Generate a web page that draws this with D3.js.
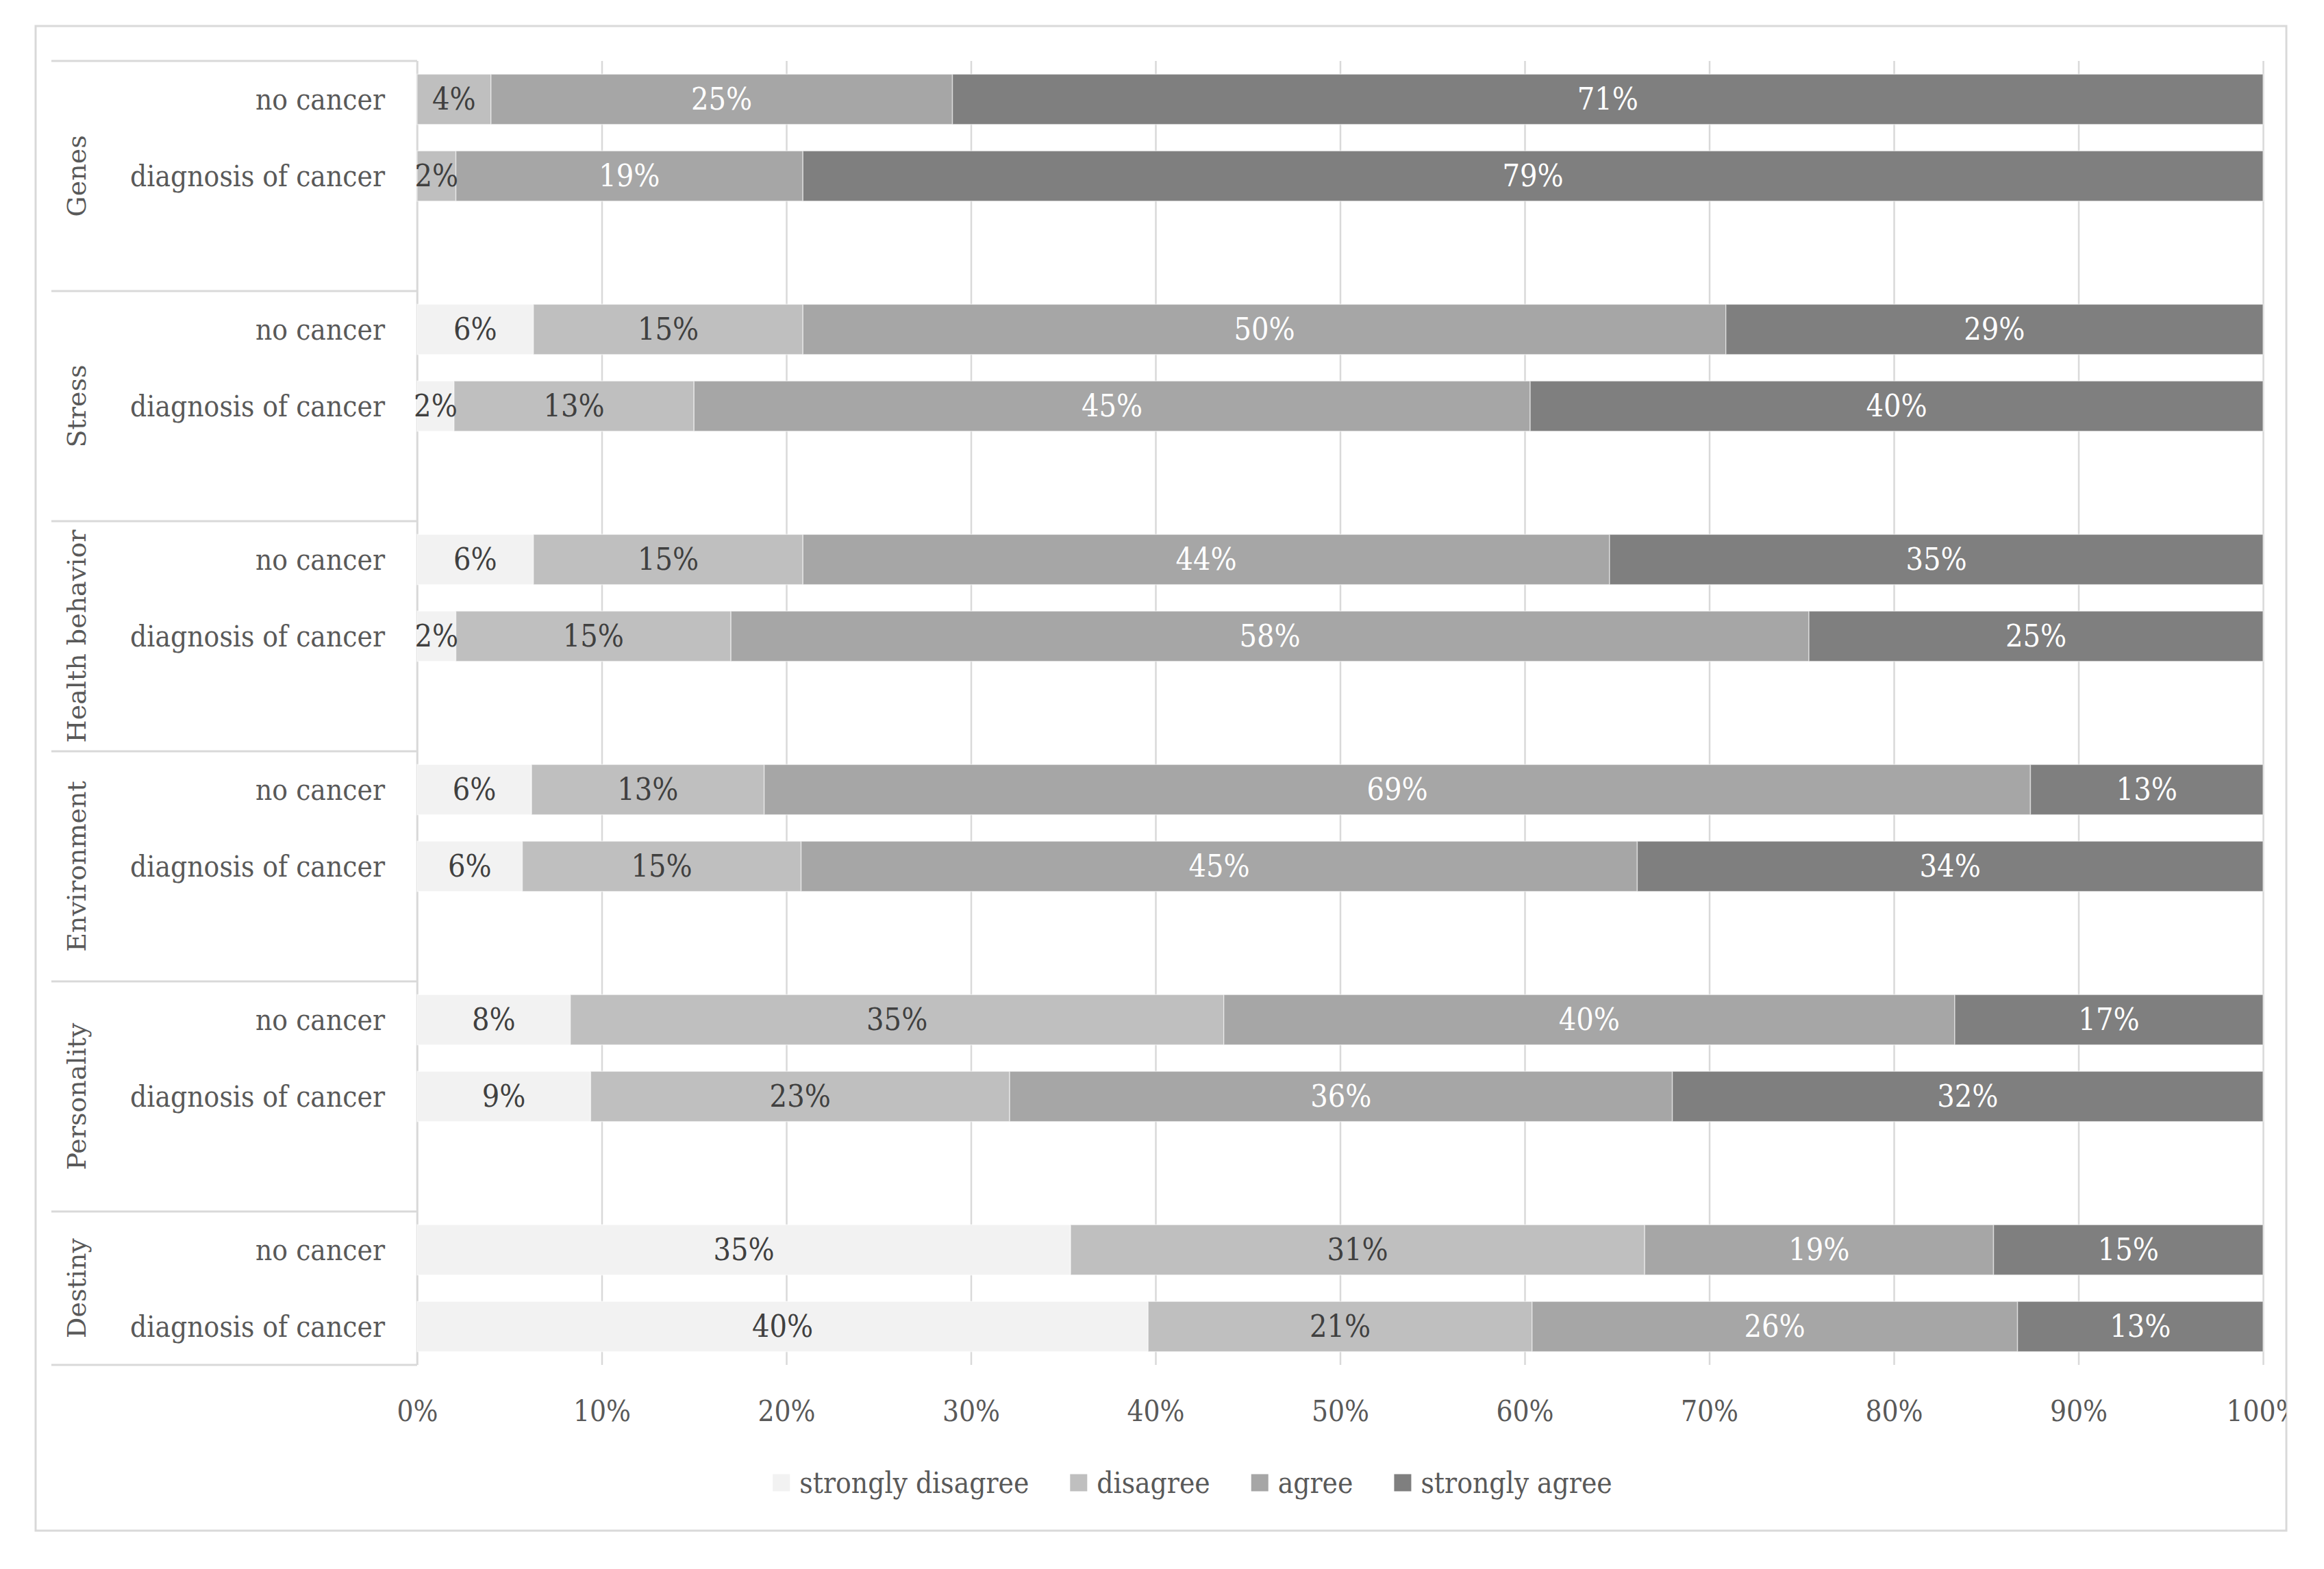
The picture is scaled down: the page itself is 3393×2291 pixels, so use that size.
<!DOCTYPE html>
<html>
<head>
<meta charset="utf-8">
<script src="https://cdn.jsdelivr.net/npm/d3@7"></script>
<style>
  body { margin: 0; background: #fff; }
</style>
</head>
<body>
<svg id="chart"></svg>
<script>
// data (percent)
const groups = ["Genes", "Stress", "Health behavior", "Environment", "Personality", "Destiny"];
const subgroups = ["no cancer", "diagnosis of cancer"];
const responses = ["strongly disagree", "disagree", "agree", "strongly agree"];
const stronglyDisagree = [0, 0, 6.3, 2.0, 6.3, 2.1, 6.2, 5.7, 8.3, 9.4, 35.4, 39.6];
const disagree = [4.0, 2.1, 14.6, 13.0, 14.6, 14.9, 12.6, 15.1, 35.4, 22.7, 31.1, 20.8];
const agree = [25.0, 18.8, 50.0, 45.3, 43.7, 58.4, 68.6, 45.3, 39.6, 35.9, 18.9, 26.3];
const stronglyAgree = [71.0, 79.1, 29.1, 39.7, 35.4, 24.6, 12.6, 33.9, 16.7, 32.0, 14.6, 13.3];
const tickValues = [0, 10, 20, 30, 40, 50, 60, 70, 80, 90, 100];

const colors = ["#f2f2f2", "#bfbfbf", "#a6a6a6", "#7f7f7f"];
const labelColors = ["#404040", "#404040", "#ffffff", "#ffffff"];

const W = 3393, H = 2291;
const frame = {x0: 52, y0: 38, x1: 3338, y1: 2235};
const plot = {x0: 609, x1: 3304, y0: 89, y1: 1993};
const tableLeft = 75;
const family = '"DejaVu Serif Condensed", "DejaVu Serif", serif';

const svg = d3.select("#chart").attr("width", W).attr("height", H)
    .style("font-family", family);

// fit the font size so "diagnosis of cancer" is as wide as in the picture
const probe = svg.append("text").style("font-size", "100px").text("diagnosis of cancer");
const fs = 100 * 372 / probe.node().getComputedTextLength();
probe.remove();
const fsVal = fs * 1.06;

// rows, with a blank slot between groups
const rows = [];
const slots = [];
groups.forEach((g, gi) => {
    subgroups.forEach((s, si) => {
        const i = gi * 2 + si;
        const key = g + "|" + s;
        rows.push({
            key, group: g, sub: s,
            "strongly disagree": stronglyDisagree[i],
            "disagree": disagree[i],
            "agree": agree[i],
            "strongly agree": stronglyAgree[i]
        });
        slots.push(key);
    });
    if (gi < groups.length - 1) slots.push("blank" + gi);
});

const x = d3.scaleLinear().domain([0, 100]).range([plot.x0, plot.x1]);
const y = d3.scaleBand().domain(slots).range([plot.y0, plot.y1])
    .paddingInner(0.345).paddingOuter(0.1725);
const step = y.step();

// outer frame
svg.append("rect")
    .attr("x", frame.x0).attr("y", frame.y0)
    .attr("width", frame.x1 - frame.x0).attr("height", frame.y1 - frame.y0)
    .attr("fill", "#fff").attr("stroke", "#d9d9d9").attr("stroke-width", 3);

svg.append("defs").append("clipPath").attr("id", "frameClip")
    .append("rect")
    .attr("x", frame.x0).attr("y", frame.y0)
    .attr("width", frame.x1 - frame.x0).attr("height", frame.y1 - frame.y0);

// gridlines + tick labels
const xAxis = d3.axisBottom(x)
    .tickValues(tickValues)
    .tickSize(-(plot.y1 - plot.y0))
    .tickPadding(0)
    .tickFormat(d => d + "%");

const ax = svg.append("g")
    .attr("clip-path", "url(#frameClip)")
    .append("g")
    .attr("transform", `translate(0,${plot.y1})`)
    .call(xAxis);
ax.select(".domain").remove();
ax.selectAll(".tick line").attr("stroke", "#d9d9d9").attr("stroke-width", 2.5);
ax.selectAll(".tick text")
    .attr("y", 2060 - plot.y1)
    .attr("dy", "0.35em")
    .attr("fill", "#595959")
    .style("font-family", family)
    .style("font-size", fs + "px");

// category table lines
const groupStarts = groups.map((g, gi) => plot.y0 + gi * 3 * step);
const boundaries = groupStarts.concat([plot.y1]);
svg.append("g").selectAll("line")
    .data(boundaries)
    .join("line")
    .attr("x1", tableLeft).attr("x2", plot.x0)
    .attr("y1", d => d).attr("y2", d => d)
    .attr("stroke", "#d9d9d9").attr("stroke-width", 3);

svg.append("line")
    .attr("x1", plot.x0).attr("x2", plot.x0)
    .attr("y1", plot.y0).attr("y2", plot.y1)
    .attr("stroke", "#d9d9d9").attr("stroke-width", 2.5);

// group labels, rotated (wider face in the picture)
svg.append("g").selectAll("text")
    .data(groups)
    .join("text")
    .attr("transform", (g, gi) => {
        const cy = (boundaries[gi] + boundaries[gi + 1]) / 2;
        return `translate(112,${cy}) rotate(-90)`;
    })
    .attr("text-anchor", "middle")
    .attr("dominant-baseline", "central")
    .attr("fill", "#595959")
    .style("font-family", '"DejaVu Serif", serif')
    .style("font-size", "38px")
    .text(d => d);

// subgroup labels
svg.append("g").selectAll("text")
    .data(rows)
    .join("text")
    .attr("x", plot.x0 - 47)
    .attr("y", d => y(d.key) + y.bandwidth() / 2)
    .attr("text-anchor", "end")
    .attr("dominant-baseline", "central")
    .attr("fill", "#595959")
    .style("font-size", fs + "px")
    .text(d => d.sub);

// stacked bars
const stacked = d3.stack().keys(responses)(rows);

const layers = svg.append("g").selectAll("g")
    .data(stacked)
    .join("g")
    .attr("fill", (d, i) => colors[i]);

layers.selectAll("rect")
    .data(d => d)
    .join("rect")
    .attr("x", d => x(d[0]))
    .attr("y", d => y(d.data.key))
    .attr("width", d => x(d[1]) - x(d[0]))
    .attr("height", y.bandwidth())
    .attr("stroke", "#ffffff")
    .attr("stroke-opacity", 0.5)
    .attr("stroke-width", 1.5);

// value labels
const fmt = v => Math.round(v) + "%";
stacked.forEach((layer, li) => {
    svg.append("g").selectAll("text")
        .data(layer.filter(d => d[1] - d[0] > 0))
        .join("text")
        .attr("x", d => x((d[0] + d[1]) / 2))
        .attr("y", d => y(d.data.key) + y.bandwidth() / 2)
        .attr("text-anchor", "middle")
        .attr("dominant-baseline", "central")
        .attr("fill", labelColors[li])
        .style("font-size", fsVal + "px")
        .text(d => fmt(d[1] - d[0]));
});

// legend
const legend = svg.append("g");
const sw = 25, gapSw = 14, gapItem = 60;
let lx = 0;
responses.forEach((r, i) => {
    const item = legend.append("g").attr("transform", `translate(${lx},0)`);
    item.append("rect")
        .attr("x", 0).attr("y", -sw / 2)
        .attr("width", sw).attr("height", sw)
        .attr("fill", colors[i]);
    const t = item.append("text")
        .attr("x", sw + gapSw)
        .attr("dominant-baseline", "central")
        .attr("fill", "#595959")
        .style("font-size", fs + "px")
        .text(r);
    lx += sw + gapSw + t.node().getComputedTextLength() + gapItem;
});
const legendW = lx - gapItem;
legend.attr("transform", `translate(${1741 - legendW / 2},2165)`);
</script>
</body>
</html>
